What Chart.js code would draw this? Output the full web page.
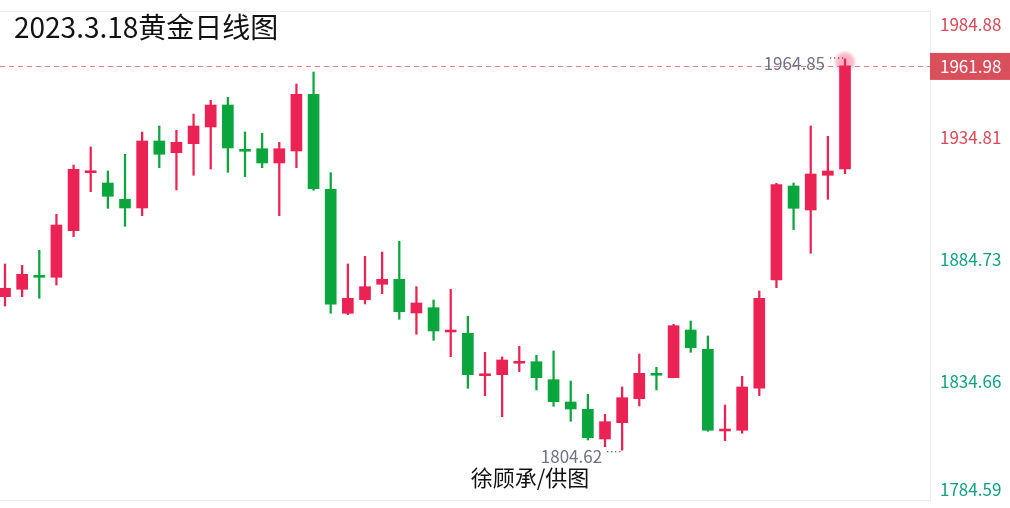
<!DOCTYPE html>
<html lang="zh-CN">
<head>
<meta charset="utf-8">
<title>2023.3.18黄金日线图</title>
<script src="https://cdn.jsdelivr.net/npm/chart.js@4.4.1/dist/chart.umd.min.js"></script>
<style>
  html, body { margin: 0; padding: 0; background: #fff; }
  #wrap { width: 1010px; height: 508px; position: relative; }
</style>
</head>
<body>
<div id="wrap"><canvas id="goldChart" width="1010" height="508"></canvas></div>
<script>
const chartTitle = "2023.3.18黄金日线图";
const credit = "徐顾承/供图";

// daily candles, oldest first
const opens = [
  1867.46, 1870.49, 1876.20, 1875.40, 1894.49, 1918.25, 1914.02, 1907.35, 1903.79, 1931.23,
  1926.43, 1930.12, 1936.96, 1945.97, 1927.82, 1928.07, 1922.22, 1927.13, 1950.35, 1911.40,
  1860.66, 1866.23, 1872.53, 1874.58, 1860.78, 1862.95, 1853.00, 1852.47, 1835.10, 1835.51,
  1840.20, 1840.82, 1833.46, 1824.33, 1821.34, 1809.17, 1815.85, 1825.68, 1836.08, 1834.28,
  1853.82, 1845.91, 1812.45, 1812.74, 1829.94, 1874.30, 1912.80, 1902.97, 1917.18, 1919.76,
];
const highs = [
  1880.85, 1880.32, 1886.46, 1901.20, 1921.40, 1928.77, 1918.94, 1925.78, 1934.91, 1937.37,
  1935.61, 1942.28, 1947.90, 1949.12, 1934.91, 1934.38, 1930.69, 1954.57, 1959.49, 1918.24,
  1880.85, 1884.00, 1885.76, 1890.15, 1871.55, 1866.10, 1870.49, 1859.43, 1844.68, 1842.76,
  1847.14, 1843.46, 1845.22, 1832.93, 1827.48, 1819.29, 1830.47, 1843.99, 1838.54, 1856.15,
  1857.50, 1851.36, 1823.10, 1834.85, 1869.79, 1913.90, 1914.02, 1937.37, 1933.15, 1964.85,
];
const lows = [
  1863.65, 1867.46, 1866.80, 1872.25, 1892.03, 1910.46, 1903.66, 1896.29, 1900.63, 1920.29,
  1911.16, 1917.18, 1919.76, 1918.41, 1916.60, 1920.29, 1900.63, 1920.29, 1911.03, 1860.66,
  1860.08, 1864.47, 1868.68, 1858.20, 1852.06, 1849.60, 1842.88, 1829.94, 1826.91, 1818.31,
  1836.74, 1829.24, 1822.57, 1816.42, 1808.76, 1806.02, 1804.62, 1822.69, 1829.24, 1834.20,
  1844.68, 1812.33, 1808.48, 1811.51, 1826.91, 1871.14, 1894.90, 1885.23, 1907.35, 1917.83,
];
const closes = [
  1870.90, 1876.63, 1875.40, 1896.82, 1919.64, 1919.05, 1908.58, 1903.79, 1931.23, 1925.78,
  1930.69, 1937.37, 1945.97, 1928.36, 1927.02, 1922.22, 1928.07, 1950.35, 1911.69, 1864.34,
  1866.80, 1871.55, 1874.58, 1861.31, 1864.88, 1853.41, 1853.80, 1835.51, 1835.90, 1841.53,
  1841.00, 1834.28, 1824.45, 1821.46, 1809.71, 1816.26, 1826.09, 1836.08, 1835.28, 1855.58,
  1846.57, 1812.74, 1813.25, 1830.47, 1866.80, 1913.33, 1903.66, 1917.71, 1918.94, 1961.98,
];
const yTicks = [1784.59, 1834.66, 1884.73, 1934.81, 1984.88];

const UP = "#eb2355";
const DOWN = "#0aa53c";
const FONT = '"Noto Sans CJK SC", "Noto Sans", sans-serif';

const candleColor = (i) => (closes[i] >= opens[i] ? UP : DOWN);

const wickData = highs.map((h, i) => ({ x: i, y: [lows[i], h] }));
const bodyData = opens.map((o, i) => ({ x: i, y: [o, closes[i]] }));

const lastIdx = closes.length - 1;
const prevClose = closes[lastIdx - 1];

const overlay = {
  id: "overlay",
  beforeDatasetsDraw(chart) {
    const { ctx, chartArea: area, scales } = chart;
    ctx.save();

    // light frame round the plot
    ctx.strokeStyle = "#ebebf0";
    ctx.lineWidth = 1;
    ctx.beginPath();
    ctx.moveTo(0, area.top + 1.5);
    ctx.lineTo(area.right + 0.5, area.top + 1.5);
    ctx.lineTo(area.right + 0.5, area.bottom + 1.5);
    ctx.lineTo(0, area.bottom + 1.5);
    ctx.stroke();

    // last price line
    const py = Math.round(scales.y.getPixelForValue(closes[lastIdx])) + 0.5;
    ctx.setLineDash([5, 4]);
    ctx.strokeStyle = "rgba(232, 92, 104, 0.8)";
    ctx.beginPath();
    ctx.moveTo(0, py);
    ctx.lineTo(area.right, py);
    ctx.stroke();
    ctx.restore();
  },
  afterDraw(chart) {
    const { ctx, chartArea: area, scales } = chart;
    const { x, y } = scales;
    ctx.save();

    // glow on the newest candle
    const gx = x.getPixelForValue(lastIdx);
    const gy = y.getPixelForValue(highs[lastIdx]) + 3;
    const glow = ctx.createRadialGradient(gx, gy, 0, gx, gy, 12);
    glow.addColorStop(0, "rgba(235, 35, 85, 0.4)");
    glow.addColorStop(0.6, "rgba(235, 35, 85, 0.3)");
    glow.addColorStop(1, "rgba(235, 35, 85, 0)");
    ctx.fillStyle = glow;
    ctx.beginPath();
    ctx.arc(gx, gy, 12, 0, Math.PI * 2);
    ctx.fill();

    // price axis labels
    ctx.font = `17px ${FONT}`;
    ctx.textAlign = "left";
    ctx.textBaseline = "middle";
    y.ticks.forEach((tick) => {
      const py = Math.min(490, Math.max(25, y.getPixelForValue(tick.value) + 5));
      ctx.fillStyle = tick.value >= prevClose ? "#d64a55" : "#12a085";
      ctx.fillText(tick.value.toFixed(2), area.right + 10, py);
    });

    // last price tag
    const ly = y.getPixelForValue(closes[lastIdx]);
    ctx.fillStyle = "#d94f5c";
    ctx.fillRect(area.right, ly - 13, 80, 27);
    ctx.fillStyle = "#ffffff";
    ctx.fillText(closes[lastIdx].toFixed(2), area.right + 10, ly + 1);

    // highest / lowest marks
    const hiIdx = highs.indexOf(Math.max(...highs));
    const loIdx = lows.indexOf(Math.min(...lows));
    const marks = [
      { i: hiIdx, v: highs[hiIdx], dy: 5, dotDy: -1.5 },
      { i: loIdx, v: lows[loIdx], dy: 6, dotDy: 1 },
    ];
    marks.forEach((m) => {
      const mx = x.getPixelForValue(m.i);
      const my = y.getPixelForValue(m.v);
      ctx.fillStyle = "#6e7385";
      ctx.textAlign = "right";
      ctx.fillText(m.v.toFixed(2), mx - 20, my + m.dy);
      ctx.fillStyle = "#444a58";
      for (let k = 0; k < 4; k++) {
        ctx.fillRect(mx - 15 + k * 4, my + m.dotDy, 1.2, 1.2);
      }
    });

    // title and credit
    ctx.fillStyle = "#111111";
    ctx.textAlign = "left";
    ctx.textBaseline = "alphabetic";
    ctx.font = `28px ${FONT}`;
    ctx.fillText(chartTitle, 14, 38);
    ctx.textAlign = "center";
    ctx.textBaseline = "middle";
    ctx.font = `22px ${FONT}`;
    ctx.fillText(credit, 530, 478);
    ctx.restore();
  },
};

new Chart(document.getElementById("goldChart"), {
  type: "bar",
  data: {
    datasets: [
      {
        label: "body",
        data: bodyData,
        order: 0,
        barThickness: 11,
        backgroundColor: (c) => candleColor(c.dataIndex),
        borderWidth: 0,
      },
      {
        label: "wick",
        data: wickData,
        order: 1,
        barThickness: 1.6,
        backgroundColor: (c) => candleColor(c.dataIndex),
        borderWidth: 0,
      },
    ],
  },
  options: {
    responsive: false,
    devicePixelRatio: 1,
    animation: false,
    grouped: false,
    layout: { padding: { left: 0, right: 80, top: 10, bottom: 9 } },
    plugins: {
      legend: { display: false },
      tooltip: { enabled: false },
    },
    scales: {
      x: {
        type: "linear",
        display: false,
        offset: false,
        min: -0.2917,
        max: 53.958,
      },
      y: {
        display: false,
        min: yTicks[0],
        max: yTicks[yTicks.length - 1],
        afterBuildTicks: (scale) => {
          scale.ticks = yTicks.map((value) => ({ value }));
        },
      },
    },
  },
  plugins: [overlay],
});
</script>
</body>
</html>
